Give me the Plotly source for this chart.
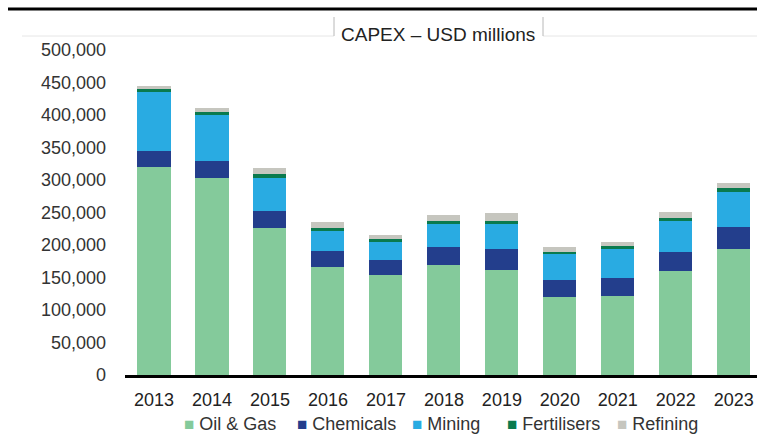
import plotly.graph_objects as go

# CAPEX by sector, USD millions
years = ["2013", "2014", "2015", "2016", "2017", "2018", "2019", "2020", "2021", "2022", "2023"]
oil_gas = [320500, 303600, 226000, 165600, 154400, 169700, 161000, 119500, 121500, 159500, 193800]
chemicals = [24000, 25600, 25600, 24600, 22000, 27200, 32300, 26200, 27200, 29200, 34400]
mining = [92000, 70800, 51800, 30800, 27700, 34900, 38500, 40500, 45100, 48200, 53300]
fertilisers = [3000, 4000, 5100, 5600, 4600, 5100, 4600, 3100, 5100, 4600, 6700]
refining = [5600, 7200, 10300, 8200, 6200, 8700, 12300, 8200, 5100, 8700, 6700]

series_names = ["Oil & Gas", "Chemicals", "Mining", "Fertilisers", "Refining"]
series_values = [oil_gas, chemicals, mining, fertilisers, refining]
series_colors = ["#84CA9B", "#233E8C", "#29ABE2", "#0A7A4E", "#C6C6BF"]

y_ticks = list(range(0, 500001, 50000))

W, H = 757, 434
ML, MR, MT, MB = 125, 0, 50, 59
PW, PH = W - ML - MR, H - MT - MB
FONT = "Liberation Sans, Arial, sans-serif"


def px_x(px):
    return (px - ML) / PW


def px_y(py):
    return (H - MB - py) / PH


fig = go.Figure()
for name, vals, col in zip(series_names, series_values, series_colors):
    fig.add_trace(go.Bar(
        x=years, y=vals, name=name,
        marker=dict(color=col, line=dict(width=0)),
        showlegend=False,
    ))

shapes = [
    # top rule
    dict(type="line", xref="paper", yref="paper",
         x0=px_x(8), x1=px_x(757), y0=px_y(9), y1=px_y(9),
         line=dict(color="#000000", width=3)),
    # faint header line either side of the title tab
    dict(type="line", xref="paper", yref="paper",
         x0=px_x(22), x1=px_x(334), y0=px_y(36), y1=px_y(36),
         line=dict(color="#E6E6E6", width=1)),
    dict(type="line", xref="paper", yref="paper",
         x0=px_x(543), x1=px_x(757), y0=px_y(36), y1=px_y(36),
         line=dict(color="#E6E6E6", width=1)),
    dict(type="line", xref="paper", yref="paper",
         x0=px_x(334), x1=px_x(334), y0=px_y(17), y1=px_y(36),
         line=dict(color="#B8B8B8", width=1)),
    dict(type="line", xref="paper", yref="paper",
         x0=px_x(543), x1=px_x(543), y0=px_y(17), y1=px_y(36),
         line=dict(color="#B8B8B8", width=1)),
]

annotations = [
    dict(text="CAPEX – USD millions", xref="paper", yref="paper",
         x=px_x(438), y=px_y(35), xanchor="center", yanchor="middle",
         showarrow=False, font=dict(family=FONT, size=19, color="#222222")),
]

# legend row
legend_left = [183, 296, 411, 506, 616]
for name, col, lx in zip(series_names, series_colors, legend_left):
    annotations.append(dict(
        text=f"<span style='color:{col};font-size:17px'>■</span> {name}",
        xref="paper", yref="paper", x=px_x(lx - 1), y=px_y(424),
        xanchor="left", yanchor="middle", showarrow=False,
        font=dict(family=FONT, size=18, color="#333333"),
    ))

fig.update_layout(
    width=W, height=H,
    margin=dict(l=ML, r=MR, t=MT, b=MB, pad=0),
    barmode="stack",
    bargap=0.43,
    plot_bgcolor="white",
    paper_bgcolor="white",
    font=dict(family=FONT, size=18, color="#333333"),
    shapes=shapes,
    annotations=annotations,
    showlegend=False,
)

fig.update_xaxes(
    type="category",
    range=[-0.5, 10.4],
    showline=True, linecolor="#000000", linewidth=3,
    showgrid=False, ticks="", ticklabelstandoff=6,
    tickfont=dict(family=FONT, size=18, color="#222222"),
)

fig.update_yaxes(
    range=[0, 500000],
    tickvals=y_ticks, tickformat=",",
    showline=False, showgrid=False, zeroline=False,
    ticks="", ticklabelstandoff=18,
    tickfont=dict(family=FONT, size=18, color="#333333"),
)

fig.write_html("out.html")
